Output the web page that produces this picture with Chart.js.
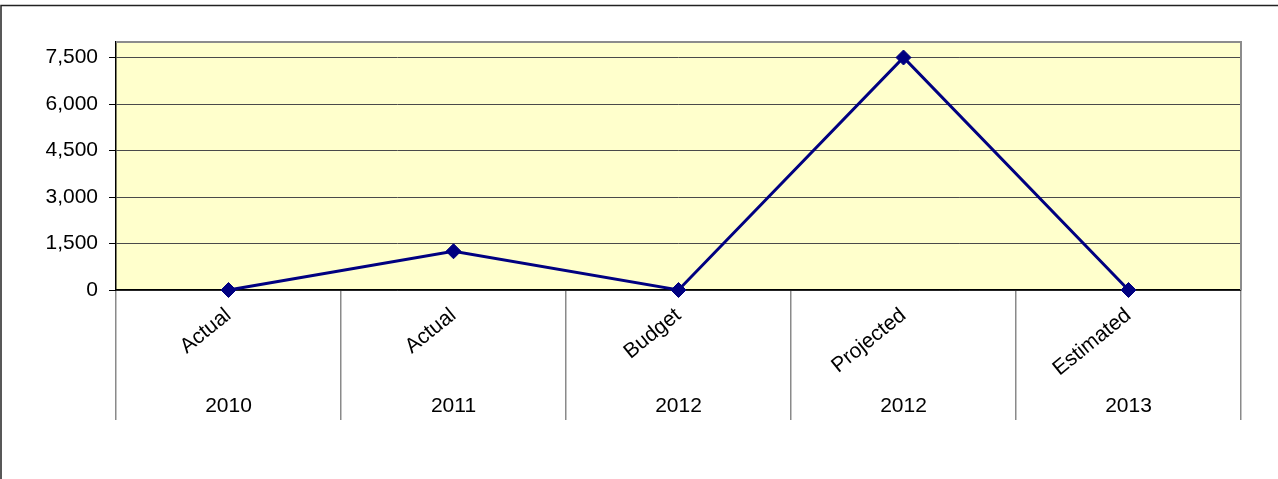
<!DOCTYPE html>
<html>
<head>
<meta charset="utf-8" />
<title>Chart</title>
<script src="https://cdn.jsdelivr.net/npm/chart.js@4.4.0/dist/chart.umd.min.js"></script>
<style>
    body { margin: 0; background: #fff; }
    #wrap { width: 1278px; height: 479px; }
</style>
</head>
<body>
<div id="wrap"><canvas id="chart" width="1278" height="479"></canvas></div>
<script>
// Data.
var periodLabels = ['Actual', 'Actual', 'Budget', 'Projected', 'Estimated'];
var yearLabels = ['2010', '2011', '2012', '2012', '2013'];
var values = [0, 1250, 0, 7500, 0];
var yTicks = [0, 1500, 3000, 4500, 6000, 7500];

var yMax = 8000;
var font = {family: "'Liberation Sans', Arial, sans-serif", size: 21};

// Yellow plot area, grey top/right edges, and the outer frame lines.
var frame = {
    id: 'frame',
    beforeDraw(chart) {
        let ctx = chart.ctx, a = chart.chartArea;
        ctx.save();
        ctx.fillStyle = '#FFFFCC';
        ctx.fillRect(a.left, a.top, a.right - a.left, a.bottom - a.top);
        ctx.restore();
    },
    afterDatasetsDraw(chart) {
        let ctx = chart.ctx, a = chart.chartArea;
        ctx.save();
        ctx.strokeStyle = '#8c8c8c';
        ctx.lineWidth = 2;
        ctx.beginPath();
        ctx.moveTo(a.left, a.top);
        ctx.lineTo(a.right, a.top);
        ctx.lineTo(a.right, a.bottom);
        ctx.stroke();
        ctx.strokeStyle = '#222';
        ctx.lineWidth = 1.5;
        ctx.beginPath();
        ctx.moveTo(chart.width, 5.5);
        ctx.lineTo(1, 5.5);
        ctx.lineTo(1, chart.height);
        ctx.stroke();
        ctx.restore();
    }
};

var chart = new Chart(document.getElementById('chart'), {
    type: 'line',
    data: {
        labels: periodLabels,
        datasets: [{
            data: values,
            borderColor: '#000080',
            backgroundColor: '#000080',
            borderWidth: 3,
            pointStyle: 'rectRot',
            pointRadius: 7.5,
            pointBorderWidth: 1,
            tension: 0,
            clip: false,
        }],
    },
    options: {
        responsive: false,
        animation: false,
        events: [],
        layout: {
            padding: {top: 42, right: 37, left: 0, bottom: 0},
        },
        plugins: {
            legend: {display: false},
            tooltip: {enabled: false},
        },
        scales: {
            x: {
                type: 'category',
                position: 'bottom',
                offset: true,
                border: {color: '#000', width: 1.5},
                grid: {
                    offset: true,
                    drawOnChartArea: false,
                    drawTicks: true,
                    tickLength: 130,
                    color: '#8a8a8a',
                    lineWidth: 1.5,
                },
                ticks: {
                    autoSkip: false,
                    minRotation: 39,
                    maxRotation: 39,
                    padding: -117,
                    color: '#000',
                    font: font,
                },
                afterFit(scale) { scale.height = 100; },
            },
            x2: {
                type: 'category',
                position: 'bottom',
                labels: yearLabels,
                offset: true,
                border: {display: false},
                grid: {display: false, drawTicks: false},
                ticks: {
                    autoSkip: false,
                    maxRotation: 0,
                    padding: 4,
                    color: '#000',
                    font: font,
                },
                afterFit(scale) { scale.height = 89; },
            },
            y: {
                min: 0,
                max: yMax,
                border: {color: '#000', width: 1.5},
                grid: {
                    color: '#4a4a4a',
                    lineWidth: 1,
                    tickLength: 7,
                    tickColor: '#000',
                },
                ticks: {
                    padding: 11,
                    color: '#000',
                    font: font,
                    callback: (v) => v.toLocaleString('en-US'),
                },
                afterBuildTicks(scale) {
                    scale.ticks = yTicks.map(v => ({value: v}));
                },
                afterFit(scale) { scale.width = 116; },
            },
        },
    },
    plugins: [frame],
});
</script>
</body>
</html>
